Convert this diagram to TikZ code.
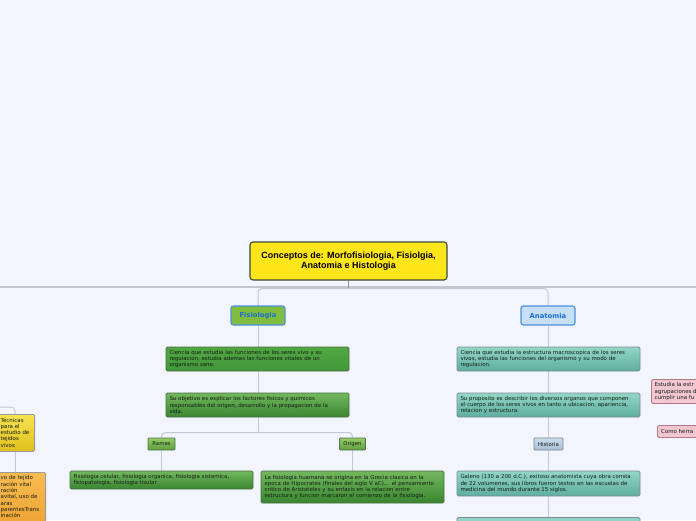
\documentclass[tikz,border=0pt]{standalone}
\usepackage{fontspec}
\setmainfont{DejaVu Sans}
\newfontfamily\titlefam{Liberation Sans}
\pgfdeclarelayer{back0}
\pgfdeclarelayer{back1}
\pgfsetlayers{back0,back1,main}
\definecolor{bgc}{HTML}{F2F5FD}
\definecolor{linec}{HTML}{C3C7CF}
\definecolor{titlefill}{HTML}{FFE61A}
\definecolor{titleborder}{HTML}{3C4A42}
\definecolor{blueborder}{HTML}{4A90E2}
\definecolor{bluetext}{HTML}{1C6FD0}
\definecolor{fisfill}{HTML}{80BC3E}
\definecolor{anafill}{HTML}{C6DFF5}
\definecolor{textc}{HTML}{141C14}
\definecolor{gborder}{HTML}{4A6E40}
\definecolor{g1t}{HTML}{52A843}
\definecolor{g1b}{HTML}{42963A}
\definecolor{g2t}{HTML}{72B85E}
\definecolor{g2b}{HTML}{3A8530}
\definecolor{gst}{HTML}{95CC68}
\definecolor{gsb}{HTML}{5E9E3C}
\definecolor{tborder}{HTML}{7C8A92}
\definecolor{tt}{HTML}{92D6C6}
\definecolor{tb}{HTML}{5FAE9F}
\definecolor{ht}{HTML}{CCDCEC}
\definecolor{hb}{HTML}{A9BFD5}
\definecolor{pinkfill}{HTML}{F2C7D1}
\definecolor{pinkborder}{HTML}{B27A88}
\definecolor{yt}{HTML}{F7E350}
\definecolor{yb}{HTML}{E0C01E}
\definecolor{ot}{HTML}{F8BC52}
\definecolor{ob}{HTML}{EA9B28}
\definecolor{sideborder}{HTML}{9A9A9A}
\newcommand\leaffont{\fontsize{5.45}{6.3}\selectfont}
\newcommand\tagfont{\fontsize{5.4}{6.3}\selectfont}
\tikzset{
  conn/.style={draw=linec, line width=1pt},
  box/.style={rounded corners=1.5pt, line width=0.8pt, inner xsep=3.5pt, inner ysep=2pt,
              align=left, text width=176pt, font=\leaffont, text=textc},
  greenone/.style={box, draw=gborder, top color=g1t, bottom color=g1b},
  greentwo/.style={box, draw=gborder, top color=g2t, bottom color=g2b},
  tealbox/.style={box, draw=tborder, top color=tt, bottom color=tb},
  tagbox/.style={rounded corners=1pt, line width=0.8pt, inner sep=0pt, font=\tagfont, text=textc,
                 minimum height=12pt},
  greentag/.style={tagbox, draw=gborder!80!gray, top color=gst, bottom color=gsb},
  histtag/.style={tagbox, draw=tborder, top color=ht, bottom color=hb},
  mainbox/.style={rounded corners=2.5pt, line width=1.2pt, draw=blueborder, minimum width=54pt,
                  minimum height=19pt, inner sep=0pt, text=bluetext, font=\fontsize{6.8}{8}\selectfont\bfseries},
  sidebox/.style={rounded corners=1.5pt, line width=0.8pt, draw=sideborder},
  sidetext/.style={inner sep=0pt, align=left, font=\leaffont, text=textc, anchor=north west},
}
\begin{document}
\begin{tikzpicture}[x=1pt,y=-1pt]
\useasboundingbox (0,0) rectangle (696,520);
\begin{pgfonlayer}{back0}
\fill[bgc] (0,0) rectangle (696,520);
\end{pgfonlayer}

% title
\node[rounded corners=3pt, line width=1.1pt, draw=titleborder, fill=titlefill,
      minimum width=197pt, minimum height=38pt, inner sep=0pt, align=center,
      font=\titlefam\fontsize{9}{10.5}\selectfont\bfseries, text=black]
  (title) at (348.5,261) {Conceptos de: Morfofisiologia, Fisiolgia,\\Anatomia e Histologia};

% main branches
\node[mainbox, fill=fisfill] (fis) at (258,315.5) {Fisiologia};
\node[mainbox, fill=anafill] (ana) at (548,315.5) {Anatomia};

% Fisiologia side
\node[greenone, minimum height=24pt] (f1) at (257.5,359)
  {Ciencia que estudia las funciones de los seres vivo y su\\regulacion, estudia ademas las funciones vitales de un\\organismo sano.};
\node[greentwo, minimum height=24pt] (f2) at (257.5,405)
  {Su objetivo es explicar los factores fisicos y quimicos\\responsables del origen, desarrollo y la propagacion de la\\vida.};
\node[greentag, minimum width=27pt] (ramas) at (161.5,444) {Ramas};
\node[greentag, minimum width=26pt] (origen) at (352.5,444) {Origen};
\node[greentwo, minimum height=18pt] (rchild) at (161.5,480)
  {Fisiologia celular, fisiologia organica, fisiologia sistemica,\\fisiopatologia, fisiologia tisular};
\node[greentwo, minimum height=32pt] (ochild) at (352.5,487)
  {La fisiologia huamana se origina en la Grecia clasica en la\\epoca de Hipocrates (finales del siglo V aC)... el pensamiento\\critico de Aristoteles y su enfasis en la relacion entre\\estructura y funcion marcaron el comienzo de la fisiologia.};

% Anatomia side
\node[tealbox, minimum height=24pt] (a1) at (548.5,359)
  {Ciencia que estudia la estructura macroscopica de los seres\\vivos, estudia las funciones del organismo y su modo de\\regulacion.};
\node[tealbox, minimum height=24pt] (a2) at (548.5,405)
  {Su proposito es describir los diversos organos que componen\\el cuerpo de los seres vivos en tanto a ubicacion, apariencia,\\relacion y estructura.};
\node[histtag, minimum width=29pt] (hist) at (548.5,444) {Historia};
\node[tealbox, minimum height=25pt] (a3) at (548.5,483.5)
  {Galeno (130 a 200 d.C.), exitoso anatomista cuya obra consta\\de 22 volumenes, sus libros fueron textos en las escuelas de\\medicina del mundo durante 15 siglos.};
\node[tealbox, minimum height=30pt, anchor=north] (a4) at (548.5,517) {};

% right side (cut off)
\node[sidebox, draw=pinkborder, fill=pinkfill, minimum width=90pt, minimum height=24pt, anchor=north west] (p1) at (651,379) {};
\node[sidetext] (p1t) at (654.5,382.5) {Estudia la estr\\agrupaciones d\\cumplir una fu};
\node[sidebox, draw=pinkborder, fill=pinkfill, minimum width=70pt, minimum height=12pt, anchor=north west] (p2) at (657,425) {};
\node[sidetext, anchor=west] (p2t) at (661,431) {Como herra};

% left side (cut off)
\node[sidebox, top color=yt, bottom color=yb, minimum width=95pt, minimum height=37pt, anchor=north east] (ybox) at (35,414) {};
\node[sidetext] (ytext) at (0.5,417.5) {Técnicas\\para el\\estudio de\\tejidos\\vivos};
\node[sidebox, top color=ot, bottom color=ob, minimum width=120pt, minimum height=70pt, anchor=north east] (obox) at (46,472) {};
\node[sidetext] (otext) at (0.5,475.5) {vo de tejido\\ración vital\\ración\\avital, uso de\\aras\\parentesTrans\\inación};

% connectors
\coordinate (lineL) at (0,287);
\coordinate (lineR) at (696,287);
\coordinate (j0) at (348.5,288.5);
\coordinate (jr) at (258,432.5);
\coordinate (bottomA) at (548,520);
\coordinate (lc) at (0,407);
\coordinate (ytop) at (15,414);
\coordinate (ybot) at (15,451);
\coordinate (otop) at (15,472);
\begin{pgfonlayer}{back1}
\draw[draw=linec, line width=1.5pt] (lineL) -- (lineR);
\draw[draw=gray!85, line width=1.3pt] (title.south) -- (j0);
\draw[conn, rounded corners=4pt] (fis.north) -- (fis.north |- j0) -- (ana.north |- j0) -- (ana.north);
\draw[conn] (fis.south) -- (jr);
\draw[conn, rounded corners=4pt] (ramas.north) -- (ramas.north |- jr) -- (origen.north |- jr) -- (origen.north);
\draw[conn] (ramas.south) -- (rchild.north -| ramas.south);
\draw[conn] (origen.south) -- (ochild.north -| origen.south);
\draw[conn] (ana.south) -- (bottomA);
\draw[conn, rounded corners=4pt] (lc) -| (ytop);
\draw[conn] (ybot) -- (otop);
\end{pgfonlayer}
\end{tikzpicture}
\end{document}
